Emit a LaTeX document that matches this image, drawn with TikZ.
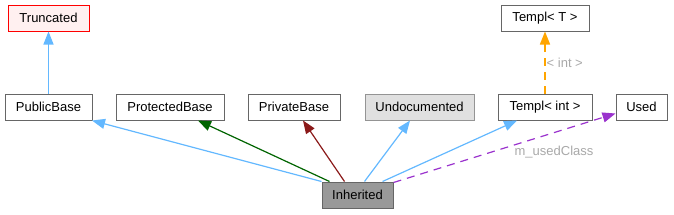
\documentclass[tikz,border=0pt]{standalone}
\usepackage{fontspec}
\setmainfont{Liberation Sans}
\usetikzlibrary{arrows.meta}
\definecolor{lblue}{HTML}{63B8FF}
\definecolor{dgreen}{HTML}{006400}
\definecolor{dred}{HTML}{8B1A1A}
\definecolor{purp}{HTML}{9A32CD}
\definecolor{orng}{HTML}{FFA500}
\definecolor{lblgrey}{HTML}{A8A8A8}
\definecolor{boxborder}{HTML}{666666}
\begin{document}
\begin{tikzpicture}[x=1pt,y=-1pt,
  cls/.style={draw=boxborder, line width=1pt, fill=white, inner sep=0pt, minimum height=26pt,
    font=\fontsize{13}{15}\selectfont, text=black},
  edge/.style={line width=1.2pt, -{Triangle[length=13pt,width=10pt]}},
  elabel/.style={font=\fontsize{13}{15}\selectfont, text=lblgrey, inner sep=0pt}]
\useasboundingbox (0,0) rectangle (674,214);
\node[cls, draw=red, fill={rgb,255:red,255;green,240;blue,240}, minimum width=81pt] (trunc) at (48.5,18) {Truncated};
\node[cls, minimum width=87pt] (pub) at (48.5,107) {PublicBase};
\node[cls, minimum width=108pt] (prot) at (170,107) {ProtectedBase};
\node[cls, minimum width=92pt] (priv) at (294,107) {PrivateBase};
\node[cls, draw=boxborder!70, fill={rgb,255:red,224;green,224;blue,224}, minimum width=109pt] (undoc) at (419.5,107) {Undocumented};
\node[cls, minimum width=94pt] (tint) at (545,107) {Templ< int >};
\node[cls, minimum width=51pt] (used) at (641.5,107) {Used};
\node[cls, minimum width=88pt] (tT) at (545,18) {Templ< T >};
\node[cls, fill={rgb,255:red,153;green,153;blue,153}, minimum width=71pt] (inh) at (357.5,195) {Inherited};

\node[elabel, anchor=west] (ilab) at (546.5,63) {< int >};
\draw[edge, lblue] (pub.north) -- (trunc.south);
\draw[edge, orng, line width=1.6pt, dash pattern=on 8pt off 6pt] (tint.north) -- (tT.south);
\draw[edge, lblue] (inh.north west) -- ([xshift=-0.5pt]pub.south east);
\draw[edge, dgreen] ([xshift=8pt]inh.north west) -- ([xshift=28pt]prot.south);
\draw[edge, dred] ([xshift=23pt]inh.north west) -- ([xshift=9pt]priv.south);
\draw[edge, lblue] ([xshift=43pt]inh.north west) -- ([xshift=-9.5pt]undoc.south);
\draw[edge, lblue] ([xshift=61pt]inh.north west) -- ([xshift=-28pt]tint.south);
\draw[edge, purp, dash pattern=on 8pt off 6pt] ([yshift=-1pt]inh.north east) -- ([yshift=7pt]used.south west);
\node[elabel] (ulab) at (554,152) {m\_usedClass};
\end{tikzpicture}
\end{document}
